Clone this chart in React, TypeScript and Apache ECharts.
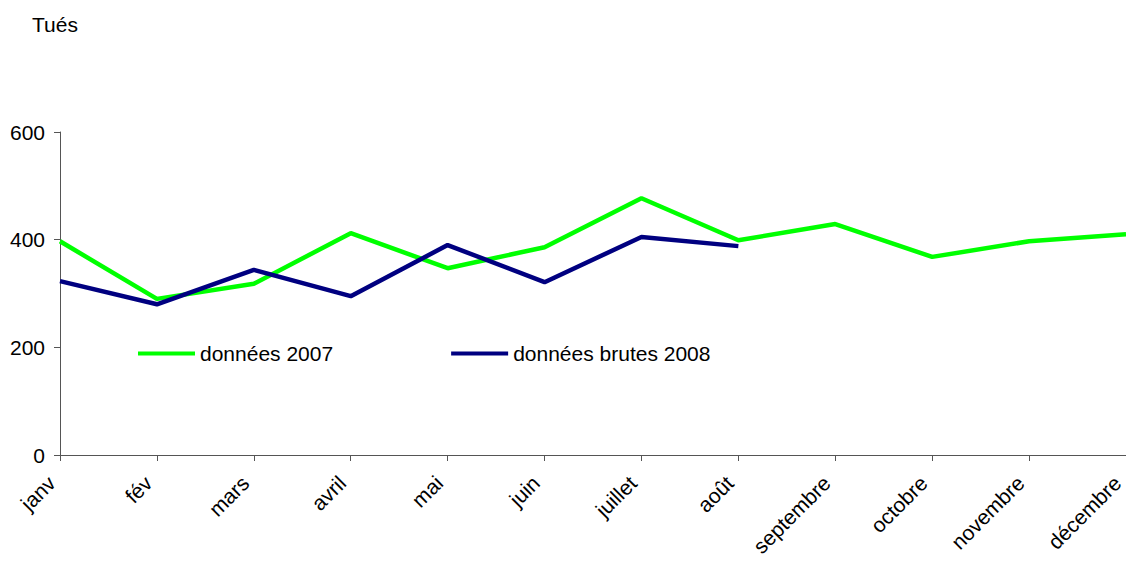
import React, { useEffect, useRef } from "react";
import * as echarts from "echarts";

const months = ["janv", "fév", "mars", "avril", "mai", "juin", "juillet", "août", "septembre", "octobre", "novembre", "décembre"];
const data2007 = [397, 290, 318, 412, 347, 386, 477, 399, 429, 368, 397, 410];
const data2008 = [323, 280, 344, 295, 390, 321, 405, 388];
const yTicks = { min: 0, max: 600, interval: 200 };

const FONT = "'Liberation Sans', Arial, sans-serif";

export default function App() {
  const ref = useRef<HTMLDivElement>(null);
  useEffect(() => {
    if (!ref.current) return;
    const chart = echarts.init(ref.current, undefined, { renderer: "svg" });
    chart.setOption({
      animation: false,
      backgroundColor: "#ffffff",
      textStyle: { fontFamily: FONT },
      graphic: [
        {
          type: "text",
          left: 32,
          top: 14,
          style: { text: "Tués", fontFamily: FONT, fontSize: 21, fill: "#000" },
        },
      ],
      legend: {
        left: 138,
        top: 343,
        padding: 0,
        itemWidth: 57,
        itemHeight: 4,
        itemGap: 118,
        icon: "rect",
        textStyle: { fontFamily: FONT, fontSize: 21, color: "#000" },
        data: ["données 2007", "données brutes 2008"],
      },
      grid: { left: 60, right: 0, top: 132, bottom: 106, containLabel: false, outerBoundsMode: "none" },
      xAxis: {
        type: "category",
        data: months,
        boundaryGap: false,
        axisLine: { lineStyle: { color: "#555", width: 1 } },
        axisTick: { show: true, length: 6, lineStyle: { color: "#555" }, alignWithLabel: true },
        axisLabel: {
          rotate: 45,
          fontFamily: FONT,
          fontSize: 21,
          color: "#000",
          margin: 16,
          padding: [0, 12, 0, 0],
          interval: 0,
          hideOverlap: false,
        },
        splitLine: { show: false },
      },
      yAxis: {
        type: "value",
        min: yTicks.min,
        max: yTicks.max,
        interval: yTicks.interval,
        axisLine: { show: true, lineStyle: { color: "#555", width: 1 } },
        axisTick: { show: true, length: 6, lineStyle: { color: "#555" } },
        axisLabel: { fontFamily: FONT, fontSize: 21, color: "#000", margin: 15 },
        splitLine: { show: false },
      },
      series: [
        {
          name: "données 2007",
          type: "line",
          data: data2007,
          showSymbol: false,
          symbol: "none",
          clip: false,
          lineStyle: { color: "#00ff00", width: 4.5 },
          itemStyle: { color: "#00ff00" },
        },
        {
          name: "données brutes 2008",
          type: "line",
          data: data2008,
          showSymbol: false,
          symbol: "none",
          clip: false,
          lineStyle: { color: "#000080", width: 4.5 },
          itemStyle: { color: "#000080" },
        },
      ],
    });
    return () => chart.dispose();
  }, []);
  return (
    <div
      ref={ref}
      style={{ position: "fixed", left: 0, top: 0, width: 1126, height: 561, background: "#fff" }}
    />
  );
}
